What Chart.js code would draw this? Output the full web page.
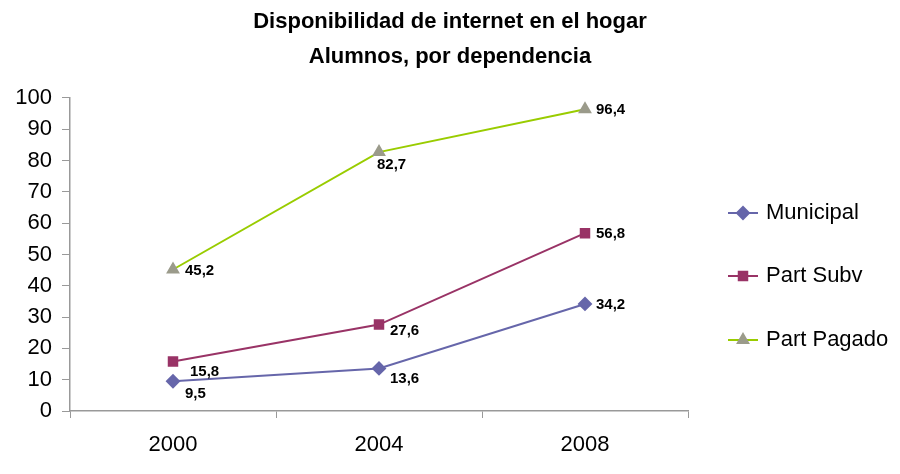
<!DOCTYPE html>
<html>
<head>
<meta charset="utf-8">
<script src="https://cdn.jsdelivr.net/npm/chart.js@4/dist/chart.umd.min.js"></script>
<style>
  html, body { margin: 0; padding: 0; background: #fff; }
  #wrap { width: 900px; height: 474px; }
</style>
</head>
<body>
<div id="wrap"><canvas id="chart"></canvas></div>
<script>
const years = ['2000', '2004', '2008'];
const municipal = [9.5, 13.6, 34.2];
const partSubv = [15.8, 27.6, 56.8];
const partPagado = [45.2, 82.7, 96.4];
const yTicks = [0, 10, 20, 30, 40, 50, 60, 70, 80, 90, 100];

const FONT = "'Liberation Sans', Arial, sans-serif";

// value labels next to each point, "9,5" style
const pointLabels = {
    id: 'pointLabels',
    afterDatasetsDraw(chart) {
        const ctx = chart.ctx;
        ctx.save();
        ctx.font = 'bold 15px ' + FONT;
        ctx.fillStyle = '#000';
        ctx.textAlign = 'left';
        ctx.textBaseline = 'middle';
        chart.data.datasets.forEach((ds, i) => {
            const meta = chart.getDatasetMeta(i);
            meta.data.forEach((pt, j) => {
                const off = ds.labelOffsets[j];
                const txt = ds.data[j].toFixed(1).replace('.', ',');
                ctx.fillText(txt, pt.x + off[0], pt.y + off[1]);
            });
        });
        ctx.restore();
    }
};

// legend on the right: short line with the marker, then the name
const sideLegend = {
    id: 'sideLegend',
    afterDraw(chart) {
        const ctx = chart.ctx;
        const x0 = chart.chartArea.right + 40;
        const rows = [213, 276, 340];
        ctx.save();
        chart.data.datasets.forEach((ds, i) => {
            const y = rows[i];
            ctx.strokeStyle = ds.borderColor;
            ctx.lineWidth = 2;
            ctx.beginPath();
            ctx.moveTo(x0, y);
            ctx.lineTo(x0 + 30, y);
            ctx.stroke();
            ctx.fillStyle = ds.pointBackgroundColor;
            ctx.strokeStyle = ds.pointBorderColor;
            Chart.helpers.drawPoint(ctx, {
                pointStyle: ds.pointStyle,
                radius: ds.pointRadius,
                borderWidth: 1
            }, x0 + 15, y);
            ctx.fillStyle = '#000';
            ctx.font = '22px ' + FONT;
            ctx.textAlign = 'left';
            ctx.textBaseline = 'middle';
            ctx.fillText(ds.label, x0 + 38, y);
        });
        ctx.restore();
    }
};

new Chart(document.getElementById('chart').getContext('2d'), {
    type: 'line',
    data: {
        labels: years,
        datasets: [
            {
                label: 'Municipal',
                data: municipal,
                borderColor: '#6666aa',
                pointBackgroundColor: '#6666aa',
                pointBorderColor: '#6666aa',
                pointStyle: 'rectRot',
                pointRadius: 6,
                borderWidth: 2,
                labelOffsets: [[12, 13], [11, 10], [11, 1]]
            },
            {
                label: 'Part Subv',
                data: partSubv,
                borderColor: '#993366',
                pointBackgroundColor: '#993366',
                pointBorderColor: '#993366',
                pointStyle: 'rect',
                pointRadius: 6,
                borderWidth: 2,
                labelOffsets: [[17, 10], [11, 6], [11, 1]]
            },
            {
                label: 'Part Pagado',
                data: partPagado,
                borderColor: '#99cc00',
                pointBackgroundColor: '#9b9b8b',
                pointBorderColor: '#9b9b8b',
                pointStyle: 'triangle',
                pointRadius: 6,
                borderWidth: 2,
                labelOffsets: [[12, 1], [-2, 13], [11, 1]]
            }
        ]
    },
    options: {
        responsive: true,
        maintainAspectRatio: false,
        animation: false,
        plugins: {
            legend: { display: false },
            tooltip: { enabled: false },
            title: {
                display: true,
                text: ['Disponibilidad de internet en el hogar', 'Alumnos, por dependencia'],
                color: '#000',
                font: { family: FONT, size: 22, weight: 'bold', lineHeight: 1.59 },
                padding: { top: 4.5, bottom: 23.5 }
            }
        },
        scales: {
            x: {
                offset: true,
                grid: {
                    offset: true,
                    drawOnChartArea: false,
                    color: '#999',
                    tickLength: 7,
                    tickColor: '#999'
                },
                border: { color: '#999', width: 1.5 },
                ticks: {
                    color: '#000',
                    font: { family: FONT, size: 22 },
                    padding: 14
                },
                afterFit(scale) { scale.height = 63; }
            },
            y: {
                min: 0,
                max: 100,
                afterBuildTicks(scale) { scale.ticks = yTicks.map(v => ({ value: v })); },
                grid: {
                    drawOnChartArea: false,
                    color: '#999',
                    tickLength: 8,
                    tickColor: '#999'
                },
                border: { color: '#999', width: 1.5 },
                ticks: {
                    color: '#000',
                    font: { family: FONT, size: 22 },
                    padding: 10
                },
                afterFit(scale) { scale.width = 70; }
            },
            // empty axis on the right, only to keep room for the legend
            side: {
                position: 'right',
                grid: { display: false },
                border: { display: false },
                ticks: { display: false },
                afterFit(scale) { scale.width = 212; }
            }
        }
    },
    plugins: [pointLabels, sideLegend]
});
</script>
</body>
</html>
